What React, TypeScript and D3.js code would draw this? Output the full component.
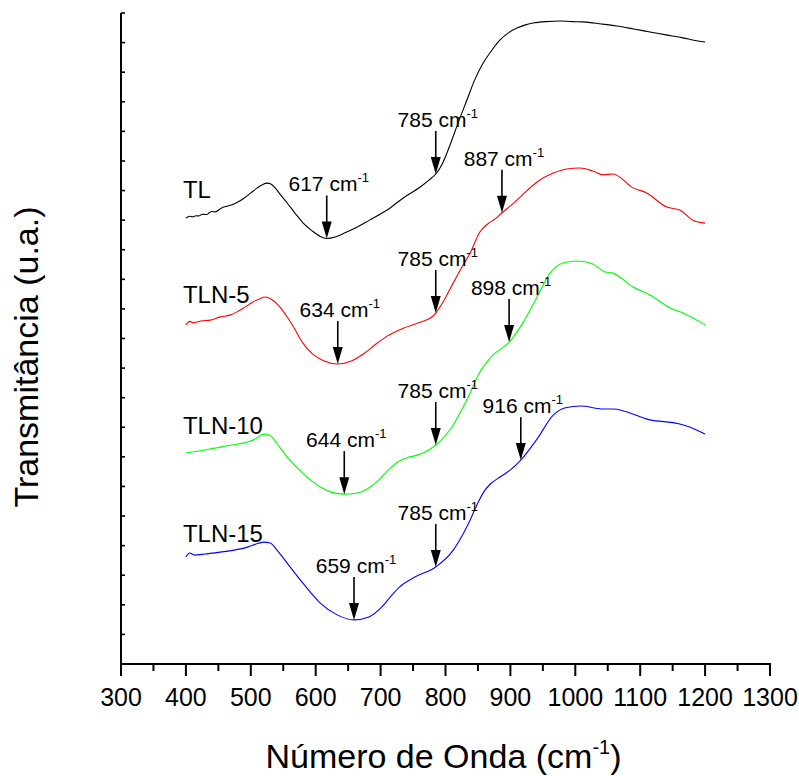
import React from 'react';
import * as d3 from 'd3';

// FTIR transmittance spectra (arbitrary units, curves offset vertically)
const tl: [number, number][] = [
  [400, 15.07], [406, 15.13], [410, 15.11], [416, 15.15], [420, 15.14], [425, 15.2],
  [432, 15.19], [436, 15.25], [440, 15.29], [445, 15.28], [455, 15.41], [470, 15.51],
  [480, 15.61], [490, 15.75], [500, 15.92], [510, 16.09], [518, 16.2], [525, 16.25],
  [531, 16.22], [538, 16.08], [545, 15.88], [556, 15.58], [568, 15.24], [580, 14.92],
  [595, 14.63], [607, 14.45], [617, 14.38], [630, 14.43], [645, 14.57], [657, 14.69],
  [683, 15.0], [710, 15.34], [735, 15.75], [761, 16.12], [775, 16.36], [785, 16.56],
  [795, 16.9], [807, 17.54], [820, 18.32], [833, 19.06], [845, 19.74], [858, 20.31],
  [870, 20.7], [884, 21.09], [897, 21.33], [910, 21.49], [922, 21.59], [935, 21.66],
  [955, 21.71], [976, 21.73], [995, 21.71], [1012, 21.7], [1040, 21.63], [1064, 21.56],
  [1090, 21.46], [1115, 21.36], [1140, 21.26], [1166, 21.16], [1185, 21.07], [1200, 21.02],
];

const tln5: [number, number][] = [
  [400, 11.46], [406, 11.58], [411, 11.53], [417, 11.56], [426, 11.6], [437, 11.62],
  [453, 11.73], [468, 11.79], [479, 11.9], [491, 12.06], [503, 12.23], [514, 12.34],
  [521, 12.4], [528, 12.37], [536, 12.26], [545, 12.06], [555, 11.76], [565, 11.42],
  [580, 10.85], [595, 10.48], [612, 10.25], [634, 10.14], [655, 10.24], [675, 10.5],
  [691, 10.78], [710, 11.08], [735, 11.35], [761, 11.55], [781, 11.76], [785, 11.86],
  [798, 12.3], [812, 12.88], [825, 13.4], [838, 13.89], [853, 14.6], [865, 14.87],
  [877, 15.05], [887, 15.25], [900, 15.48], [915, 15.78], [941, 16.29], [966, 16.59],
  [987, 16.73], [1007, 16.76], [1027, 16.66], [1043, 16.53], [1058, 16.56], [1089, 16.09],
  [1110, 15.92], [1141, 15.44], [1161, 15.34], [1181, 15.0], [1200, 14.9],
];

const tln10: [number, number][] = [
  [400, 7.13], [420, 7.2], [453, 7.33], [470, 7.4], [495, 7.5], [508, 7.62], [516, 7.74],
  [522, 7.77], [530, 7.72], [540, 7.46], [556, 6.99], [580, 6.45], [607, 5.98],
  [625, 5.8], [644, 5.74], [660, 5.76], [672, 5.83], [685, 6.0], [698, 6.24],
  [714, 6.6], [729, 6.86], [742, 6.98], [755, 7.05], [770, 7.18], [785, 7.4],
  [798, 7.68], [810, 8.01], [824, 8.55], [838, 9.16], [850, 9.75], [860, 10.1],
  [873, 10.44], [886, 10.66], [898, 10.88], [919, 11.52], [941, 12.4], [961, 13.21],
  [981, 13.55], [1003, 13.62], [1027, 13.52], [1046, 13.25], [1058, 13.21], [1089, 12.74],
  [1115, 12.47], [1146, 12.03], [1166, 11.86], [1200, 11.46],
];

const tln15: [number, number][] = [
  [400, 3.62], [406, 3.75], [413, 3.68], [430, 3.72], [453, 3.78], [495, 3.95], [512, 4.08],
  [520, 4.12], [530, 4.09], [540, 3.86], [556, 3.41], [580, 2.74], [607, 2.06], [633, 1.66],
  [659, 1.49], [682, 1.59], [702, 1.93], [717, 2.32], [729, 2.6], [753, 2.94],
  [785, 3.28], [812, 3.85], [826, 4.35], [838, 4.87], [850, 5.45], [860, 5.85],
  [870, 6.1], [884, 6.32], [900, 6.56], [916, 6.89], [941, 7.6], [966, 8.41],
  [985, 8.66], [1008, 8.72], [1043, 8.62], [1058, 8.62], [1115, 8.25], [1161, 8.11],
  [1176, 8.01], [1200, 7.77],
];

const seriesNames = ['TL', 'TLN-5', 'TLN-10', 'TLN-15'];
const seriesData = [tl, tln5, tln10, tln15];
// marked band positions (cm-1) for each spectrum
const bandMarks = [
  [617, 785],
  [634, 785, 887],
  [644, 785, 898],
  [659, 785, 916],
];

const xTickValues = [300, 400, 500, 600, 700, 800, 900, 1000, 1100, 1200, 1300];
const xMinorTickValues = [350, 450, 550, 650, 750, 850, 950, 1050, 1150, 1250];
const yTickValues = d3.range(0, 23);

const WIDTH = 799;
const HEIGHT = 776;
const plot = { left: 121, right: 770, top: 13, bottom: 664 };
const colors = ['#000000', '#ff0000', '#00ff00', '#0000ff'];
const nameOffsets = [-20, -22, -19, -15];
const FONT = "'Liberation Sans', Arial, Helvetica, sans-serif";

const x = d3.scaleLinear().domain([300, 1300]).range([plot.left, plot.right]);
const y = d3.scaleLinear().domain([0, 22]).range([plot.bottom, plot.top]);

const line = d3
  .line<[number, number]>()
  .x((d) => x(d[0]))
  .y((d) => y(d[1]))
  .curve(d3.curveMonotoneX);

function valueAt(data: [number, number][], w: number): number {
  const i = d3.bisector((d: [number, number]) => d[0]).left(data, w);
  if (i <= 0) return data[0][1];
  if (i >= data.length) return data[data.length - 1][1];
  const [x0, y0] = data[i - 1];
  const [x1, y1] = data[i];
  return y0 + ((y1 - y0) * (w - x0)) / (x1 - x0);
}

const ARROW_LEN = 43;
const HEAD_LEN = 17;
const HEAD_W = 5;

export default function App() {
  return (
    <div style={{ position: 'absolute', left: 0, top: 0 }}>
      <svg width={WIDTH} height={HEIGHT} style={{ display: 'block', background: '#fff' }} fontFamily={FONT}>
        {/* spectra */}
        {seriesData.map((data, i) => (
          <path key={seriesNames[i]} d={line(data) || ''} fill="none" stroke={colors[i]} strokeWidth={1.1} />
        ))}

        {/* sample names */}
        {seriesData.map((data, i) => (
          <text key={'n' + i} x={x(400) - 3} y={y(data[0][1]) + nameOffsets[i]} fontSize={24} fill="#000">
            {seriesNames[i]}
          </text>
        ))}

        {/* band markers */}
        {bandMarks.map((marks, i) =>
          marks.map((w) => {
            const px = x(w);
            const tip = y(valueAt(seriesData[i], w));
            const start = tip - ARROW_LEN;
            return (
              <g key={`m${i}-${w}`}>
                <line x1={px} x2={px} y1={start} y2={tip - HEAD_LEN + 2} stroke="#000" strokeWidth={1.6} />
                <path
                  d={`M${px - HEAD_W},${tip - HEAD_LEN} L${px + HEAD_W},${tip - HEAD_LEN} L${px},${tip} Z`}
                  fill="#000"
                />
                <text x={px + 2} y={start - 4} fontSize={21} textAnchor="middle" fill="#000">
                  {w} cm
                  <tspan fontSize={13} dy={-9}>-1</tspan>
                </text>
              </g>
            );
          })
        )}

        {/* left axis */}
        <line x1={plot.left} x2={plot.left} y1={plot.top} y2={plot.bottom} stroke="#000" strokeWidth={2} />
        {yTickValues.map((v) => (
          <line key={'yt' + v} x1={plot.left} x2={plot.left + 4} y1={y(v)} y2={y(v)} stroke="#000" strokeWidth={1.6} />
        ))}

        {/* bottom axis */}
        <line x1={plot.left - 1} x2={plot.right + 1} y1={plot.bottom} y2={plot.bottom} stroke="#000" strokeWidth={2} />
        {xTickValues.map((v) => (
          <g key={'xt' + v}>
            <line x1={x(v)} x2={x(v)} y1={plot.bottom} y2={plot.bottom + 12} stroke="#000" strokeWidth={2} />
            <text x={x(v)} y={plot.bottom + 42} fontSize={25} textAnchor="middle" fill="#000">
              {v}
            </text>
          </g>
        ))}
        {xMinorTickValues.map((v) => (
          <line key={'xm' + v} x1={x(v)} x2={x(v)} y1={plot.bottom} y2={plot.bottom + 7} stroke="#000" strokeWidth={2} />
        ))}

        {/* axis titles */}
        <text x={(plot.left + plot.right) / 2 - 2} y={768} fontSize={34} textAnchor="middle" fill="#000">
          Número de Onda (cm<tspan fontSize={20} dy={-14}>-1</tspan><tspan dy={14}>)</tspan>
        </text>
        <text
          transform={`translate(38, 357) rotate(-90)`}
          fontSize={34}
          textAnchor="middle"
          fill="#000"
        >
          Transmitância (u.a.)
        </text>
      </svg>
    </div>
  );
}
